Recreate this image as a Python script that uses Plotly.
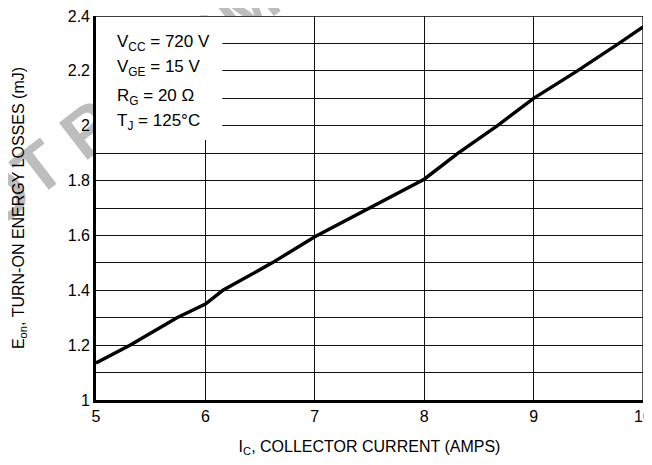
import plotly.graph_objects as go

# Data
ic_amps = [5.0, 5.31, 5.74, 6.0, 6.16, 6.61, 7.0, 7.5, 8.0, 8.31, 8.67, 9.0, 9.4, 9.78, 10.0]
eon_mj = [1.135, 1.2, 1.3, 1.35, 1.4, 1.5, 1.595, 1.7, 1.805, 1.9, 2.0, 2.1, 2.2, 2.3, 2.36]

x_ticks = [5, 6, 7, 8, 9, 10]
y_grid = [1.0, 1.1, 1.2, 1.3, 1.4, 1.5, 1.6, 1.7, 1.8, 1.9, 2.0, 2.1, 2.2, 2.3, 2.4]
y_labels = ["1", "", "1.2", "", "1.4", "", "1.6", "", "1.8", "", "2", "", "2.2", "", "2.4"]

cond_lines = ["V<sub>CC</sub> = 720 V", "V<sub>GE</sub> = 15 V", "R<sub>G</sub> = 20 Ω", "T<sub>J</sub> = 125°C"]

FONT = "Liberation Sans Narrow, Arial Narrow, Liberation Sans, Arial, sans-serif"

fig = go.Figure()
fig.add_trace(go.Scatter(x=ic_amps, y=eon_mj, mode="lines",
                         line=dict(color="black", width=3.4), showlegend=False,
                         hoverinfo="skip"))

shapes = [
    # watermark (behind plot)
    dict(type="line", xref="paper", yref="paper", x0=0.079, y0=0.828, x1=0.368, y1=1.146,
         line=dict(width=0, color="rgba(0,0,0,0)"), layer="below",
         label=dict(text="<b>NOT RECOMMENDED</b>", textposition="middle", yanchor="middle",
                    font=dict(family="Liberation Sans, Arial", size=68, color="#bdbdbd"))),
    # white plot area that hides the watermark
    dict(type="rect", xref="x", yref="y", x0=5, x1=10, y0=1, y1=2.4,
         fillcolor="white", line=dict(width=0), layer="below"),
    # conditions box
    dict(type="rect", xref="x", yref="y", x0=5.0, x1=6.155, y0=1.948, y1=2.4,
         fillcolor="white", line=dict(width=0), layer="between"),
    # thin frame top/right
    dict(type="line", xref="x", yref="y", x0=5, x1=10, y0=2.4, y1=2.4,
         line=dict(color="black", width=1.3), layer="above"),
    dict(type="line", xref="x", yref="y", x0=10, x1=10, y0=1, y1=2.4,
         line=dict(color="black", width=1.3), layer="above"),
]

annotations = []
line_y = [2.303, 2.212, 2.106, 2.015]
for txt, yy in zip(cond_lines, line_y):
    annotations.append(dict(x=5.17, y=yy, xref="x", yref="y", text=txt, showarrow=False,
                            xanchor="left", yanchor="middle",
                            font=dict(family=FONT, size=17, color="black")))

fig.update_layout(
    width=636, height=449,
    margin=dict(l=88, r=1, t=8, b=57),
    paper_bgcolor="white", plot_bgcolor="rgba(0,0,0,0)",
    font=dict(family=FONT, size=16, color="black"),
    shapes=shapes, annotations=annotations,
    xaxis=dict(range=[5, 10], tickvals=x_ticks, ticktext=[str(v) for v in x_ticks],
               showgrid=True, gridcolor="#111111", gridwidth=1.3, automargin=False,
               showline=True, linecolor="black", linewidth=2.6, ticks="",
               zeroline=False, tickfont=dict(size=16), ticklabeloverflow="allow",
               title=dict(text="I<sub>C</sub>, COLLECTOR CURRENT (AMPS)", standoff=25,
                          font=dict(size=16))),
    yaxis=dict(range=[1, 2.4], tickvals=y_grid, ticktext=y_labels,
               showgrid=True, gridcolor="#111111", gridwidth=1.3, automargin=False,
               showline=True, linecolor="black", linewidth=2.6, ticks="",
               zeroline=False, tickfont=dict(size=16), ticklabeloverflow="allow",
               title=dict(text="E<sub>on</sub>, TURN-ON ENERGY LOSSES (mJ)", standoff=40,
                          font=dict(size=16))),
)

fig.write_html("out.html")
